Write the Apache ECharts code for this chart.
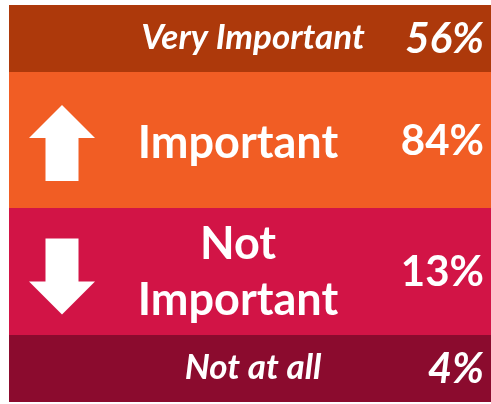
<!DOCTYPE html>
<html>
<head>
<meta charset="utf-8">
<script src="https://cdn.jsdelivr.net/npm/echarts@6/dist/echarts.min.js"></script>
<style>
html,body{margin:0;padding:0;background:#fff;}
#chart{width:491px;height:404px;}
</style>
</head>
<body>
<div id="chart"></div>
<script>
// ---- data ----
const categories = ['Very Important', 'Important', 'Not Important', 'Not at all'];
const labelLines = ['Very Important', 'Important', 'Not\nImportant', 'Not at all'];
const values = [56, 84, 13, 4];

// ---- layout / style (not data) ----
const bandEdges = [0, 67, 203, 330, 397];
const bandColors = ['#AD390B', '#F15D24', '#D21446', '#8B0B2E'];
const arrowDir = [0, 1, -1, 0];

const chart = echarts.init(document.getElementById('chart'), null, {renderer: 'canvas'});

function renderItem(params, api) {
  const i = api.value(0);
  const tl = api.coord([0, bandEdges[i]]);
  const br = api.coord([1, bandEdges[i + 1]]);
  const x0 = tl[0], y0 = tl[1], x1 = br[0], y1 = br[1];
  const cy = (y0 + y1) / 2;
  const italic = arrowDir[i] === 0;
  const children = [{
    type: 'rect',
    shape: {x: x0, y: y0, width: x1 - x0, height: y1 - y0},
    style: {fill: bandColors[i]}
  }];
  if (arrowDir[i] !== 0) {
    const ax = x0 + 53;
    const ay = cy + (arrowDir[i] > 0 ? 3 : 5);
    const d = arrowDir[i];
    const half = 38;
    const tip = ay - d * half;
    const base = ay + d * half;
    const neck = tip + d * 33;
    children.push({
      type: 'polygon',
      shape: {points: [
        [ax, tip], [ax + 33, neck], [ax + 16.5, neck], [ax + 16.5, base],
        [ax - 16.5, base], [ax - 16.5, neck], [ax - 33, neck]
      ]},
      style: {fill: '#FFFFFF'}
    });
  }
  children.push({
    type: 'text',
    style: {
      text: labelLines[i],
      x: italic ? 253 : 238,
      y: italic ? cy - 1 : (i === 2 ? cy + 1 : cy + 3),
      align: 'center',
      verticalAlign: 'middle',
      fill: '#FFFFFF',
      fontFamily: 'Lato',
      fontWeight: 'bold',
      fontStyle: italic ? 'italic' : 'normal',
      fontSize: italic ? 35 : 45,
      lineHeight: 56
    }
  });
  children.push({
    type: 'text',
    style: {
      text: api.value(1) + '%',
      x: 484,
      y: cy + 1,
      align: 'right',
      verticalAlign: 'middle',
      fill: '#FFFFFF',
      fontFamily: 'Lato',
      fontWeight: 'bold',
      fontStyle: italic ? 'italic' : 'normal',
      fontSize: 42
    }
  });
  return {type: 'group', children: children};
}

chart.setOption({
  animation: false,
  backgroundColor: '#FFFFFF',
  grid: {left: 9, right: 0, top: 5, bottom: 2},
  xAxis: {type: 'value', min: 0, max: 1, show: false},
  yAxis: {type: 'value', min: 0, max: 397, inverse: true, show: false},
  series: [{
    type: 'custom',
    renderItem: renderItem,
    data: categories.map((c, i) => ({name: c, value: [i, values[i]]}))
  }]
});
</script>
</body>
</html>
